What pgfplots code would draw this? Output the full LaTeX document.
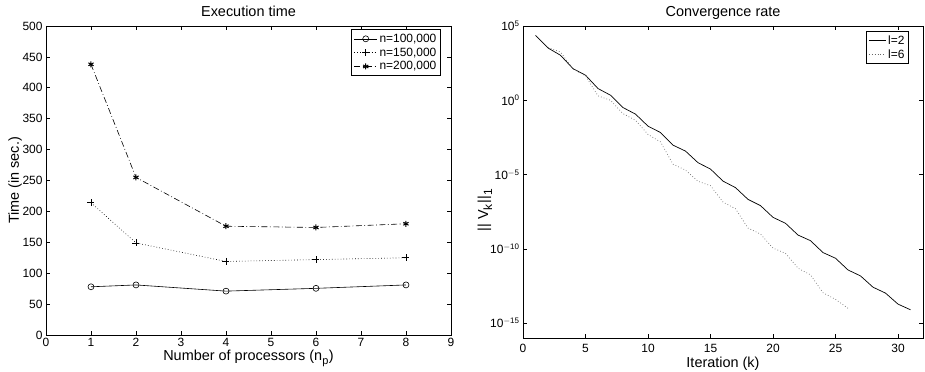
\documentclass[border=0pt]{standalone}
\usepackage{fontspec}
\setmainfont{Liberation Sans}
\usepackage{pgfplots}
\pgfplotsset{compat=1.18}
\pgfplotsset{
  mystyle/.style={
    scale only axis,
    anchor=south west,
    axis line style={line width=0.9bp},
    major tick style={line width=0.7bp, black},
    major tick length=4bp,
    tick align=inside,
    /pgf/number format/assume math mode=true,
    tick label style={font=\fontsize{12}{13}\selectfont},
    every axis title/.style={font=\fontsize{14.5}{16}\selectfont, at={(0.5,1)}, anchor=base, yshift=9.5bp},
    label style={font=\fontsize{14.5}{17}\selectfont},
    legend cell align=left,
    legend style={draw=black, line width=1bp, font=\fontsize{12}{13}\selectfont, anchor=north east, inner sep=2bp, row sep=0bp},
  }
}
\begin{document}
\begin{tikzpicture}
\path[use as bounding box] (0,0) rectangle (925bp,372bp);
\begin{axis}[
  mystyle,
  at={(46bp,37bp)}, width=405bp, height=309bp,
  xmin=0, xmax=9, ymin=0, ymax=500,
  xtick={0,1,...,9}, ytick={0,50,...,500},
  title={Execution time},
  xlabel={Number of processors (n\raisebox{-4bp}{\fontsize{11}{11}\selectfont p}\hspace{0.5bp})},
  xlabel style={at={(axis description cs:0.5,0)}, anchor=base, yshift=-25.5bp},
  ylabel={Time (in sec.)},
  ylabel style={at={(axis description cs:-0.067,0.5)}, anchor=base, rotate=0},
  legend style={at={(axis description cs:0.975,0.989)}},
  legend image code/.code={\draw[mark repeat=2,mark phase=2] plot coordinates {(0bp,0bp) (11.5bp,0bp) (23bp,0bp)};},
]
\addplot[black, line width=0.6bp, mark=o, mark size=3bp, mark options={solid, line width=0.6bp}]
  coordinates {(1,78) (2,81) (4,71) (6,75.5) (8,81)};
\addlegendentry{n=100,000}
\addplot[black, line width=0.6bp, dash pattern=on 0.7bp off 2.2bp, mark=+, mark size=3.5bp, mark options={solid, line width=0.7bp}]
  coordinates {(1,214) (2,149) (4,119) (6,122) (8,125)};
\addlegendentry{n=150,000}
\addplot[black, line width=0.6bp, dash pattern=on 6bp off 2.5bp on 0.8bp off 2.5bp, mark=asterisk, mark size=3bp, mark options={solid, line width=1bp}]
  coordinates {(1,438) (2,255) (4,176) (6,174) (8,180)};
\addlegendentry{n=200,000}
\end{axis}

\begin{axis}[
  mystyle,
  at={(523bp,34bp)}, width=400bp, height=312bp,
  xmin=0, xmax=32, ymin=1e-16, ymax=1e5,
  ymode=log,
  xtick={0,5,...,30},
  xticklabel style={yshift=-3bp},
  ytick={1e-15,1e-10,1e-5,1,1e5},
  yticklabels={10\textsuperscript{$-$15},10\textsuperscript{$-$10},10\textsuperscript{$-$5},10\textsuperscript{0},10\textsuperscript{5}},
  minor ytick={},
  title={Convergence rate},
  xlabel={Iteration (k)},
  xlabel style={at={(axis description cs:0.5,0)}, anchor=base, yshift=-29bp},
  ylabel={|| V\raisebox{-4bp}{\fontsize{12}{12}\selectfont k}\hspace{1bp}||\raisebox{-4bp}{\fontsize{12}{12}\selectfont 1}},
  ylabel style={at={(axis description cs:-0.0875,0.41)}, anchor=base, rotate=0},
  legend style={at={(axis description cs:0.965,0.984)}},
]
\addplot[black, line width=0.7bp]
  coordinates {
  (1,2.34e4) (2,3.31e3) (3,1.07e3) (4,1.35e2) (5,4.90e1) (6,6.17) (7,2.19) (8,3.24e-1)
  (9,1.17e-1) (10,1.82e-2) (11,6.76e-3) (12,9.55e-4) (13,3.80e-4) (14,6.31e-5) (15,2.34e-5)
  (16,3.63e-6) (17,1.32e-6) (18,2.14e-7) (19,8.13e-8) (20,1.32e-8) (21,5.25e-9) (22,8.51e-10)
  (23,3.55e-10) (24,5.62e-11) (25,2.34e-11) (26,3.80e-12) (27,1.51e-12) (28,2.63e-13)
  (29,1.05e-13) (30,1.91e-14) (31,7.94e-15)};
\addlegendentry{l=2}
\addplot[black!60, line width=0.7bp, dash pattern=on 0.7bp off 2.2bp]
  coordinates {
  (2,3.55e3) (3,1.78e3) (4,1.26e2) (5,4.47e1) (6,2.0) (7,1.0) (8,1.26e-1) (9,4.47e-2)
  (10,5.01e-3) (11,1.58e-3) (12,5.01e-5) (13,2.0e-5) (14,3.55e-6) (15,1.78e-6) (16,1.41e-7)
  (17,5.01e-8) (18,2.51e-9) (19,1.0e-9) (20,1.12e-10) (21,5.01e-11) (22,5.01e-12)
  (23,1.78e-12) (24,1.12e-13) (25,3.98e-14) (26,1.0e-14)};
\addlegendentry{l=6}
\end{axis}
\end{tikzpicture}
\end{document}
